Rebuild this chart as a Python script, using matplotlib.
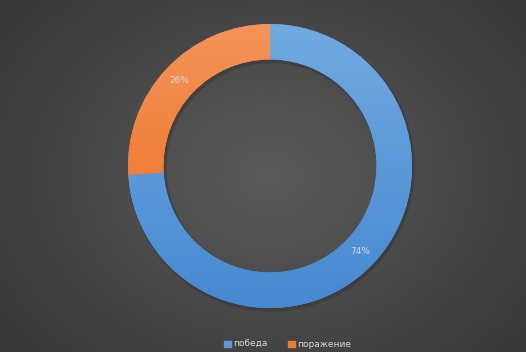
import matplotlib.pyplot as plt
import numpy as np
from matplotlib.patches import Patch
from matplotlib.colors import LinearSegmentedColormap

labels = ['победа', 'поражение']
values = [74, 26]
colors = ['#5b9bd5', '#ed7d31']
light = ['#70aae0', '#f4935a']
dark = ['#4689d2', '#ec6c18']

fig = plt.figure(figsize=(5.26, 3.52), dpi=100)

# radial background
bg = fig.add_axes([0, 0, 1, 1])
yy, xx = np.mgrid[0:352, 0:526]
d = np.sqrt(((xx - 270) / 330.0) ** 2 + ((yy - 176) / 260.0) ** 2)
d = np.clip(d, 0, 1)
shade = 0x5b / 255 - d * (0x5b - 0x38) / 255
bg.imshow(np.dstack([shade, shade, shade]), aspect='auto', extent=[0, 1, 0, 1])
bg.set_axis_off()

ax = fig.add_axes([128 / 526, (352 - 166 - 142) / 352, 284 / 526, 284 / 352])
ax.set_axis_off()

# faint shadow
ax.pie(values, radius=1.01, startangle=90, counterclock=False,
       colors=['#2a2a2a'] * 2, wedgeprops=dict(width=0.27, alpha=0.35, linewidth=0),
       center=(0.01, -0.015))

wedges, texts, autotexts = ax.pie(values, radius=1, startangle=90, counterclock=False,
                                  colors=colors, autopct='%1.0f%%', pctdistance=0.875,
                                  wedgeprops=dict(width=0.25, linewidth=0),
                                  textprops=dict(color='#d9d9d9', fontsize=6.5))

for w, c1, c2 in zip(wedges, light, dark):
    cmap = LinearSegmentedColormap.from_list('g', [c2, c1])
    grad = np.linspace(0, 1, 256).reshape(-1, 1)
    im = ax.imshow(grad, cmap=cmap, extent=[-1, 1, -1, 1], origin='lower',
                   aspect='auto', zorder=w.get_zorder() + 0.1)
    im.set_clip_path(w)
for t in autotexts:
    t.set_zorder(5)

ax.set_xlim(-1, 1)
ax.set_ylim(-1, 1)
ax.set_aspect('equal')

fig.legend(handles=[Patch(color=c) for c in colors], labels=labels,
           loc='lower center', bbox_to_anchor=(0.547, -0.015), ncol=2, frameon=False,
           fontsize=6.5, labelcolor='#d9d9d9', handlelength=0.75, handleheight=0.75,
           handletextpad=0.3, columnspacing=2.2)

fig.savefig('out.png', dpi=100)
